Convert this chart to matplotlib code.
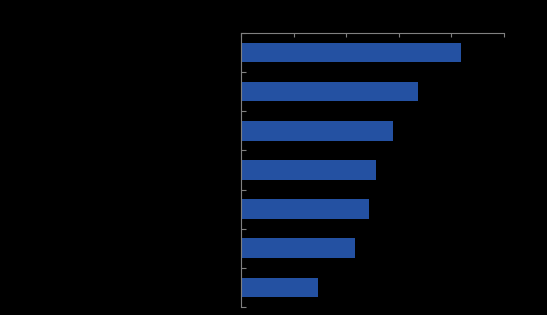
import matplotlib
matplotlib.use("Agg")
import matplotlib.pyplot as plt
import numpy as np

categories = ["A", "B", "C", "D", "E", "F", "G"]
values = [41.9, 33.7, 29.0, 25.7, 24.4, 21.7, 14.7]
xticks = [0, 10, 20, 30, 40, 50]

fig = plt.figure(figsize=(5.47, 3.15), dpi=100, facecolor="black")
ax = fig.add_axes([241/547, 1-307/315, 262.5/547, (307-33)/315])
ax.set_facecolor("black")

y = np.arange(len(categories))
ax.barh(y, values, height=0.5, color="#2451A2")
ax.set_ylim(len(categories) - 0.5, -0.5)
ax.set_xlim(0, 50)

ax.xaxis.tick_top()
ax.set_xticks(xticks)
ax.set_xticklabels([])
ax.set_yticks(np.arange(len(categories) + 1) - 0.5)
ax.set_yticklabels([])
ax.tick_params(axis="x", direction="in", length=3, width=0.8, color="#808080")
ax.tick_params(axis="y", direction="in", length=3.5, width=0.8, color="#808080")

for s in ["right", "bottom"]:
    ax.spines[s].set_visible(False)
for s in ["left", "top"]:
    ax.spines[s].set_color("#808080")
    ax.spines[s].set_linewidth(0.8)

fig.savefig("out.png", dpi=100, facecolor="black")
